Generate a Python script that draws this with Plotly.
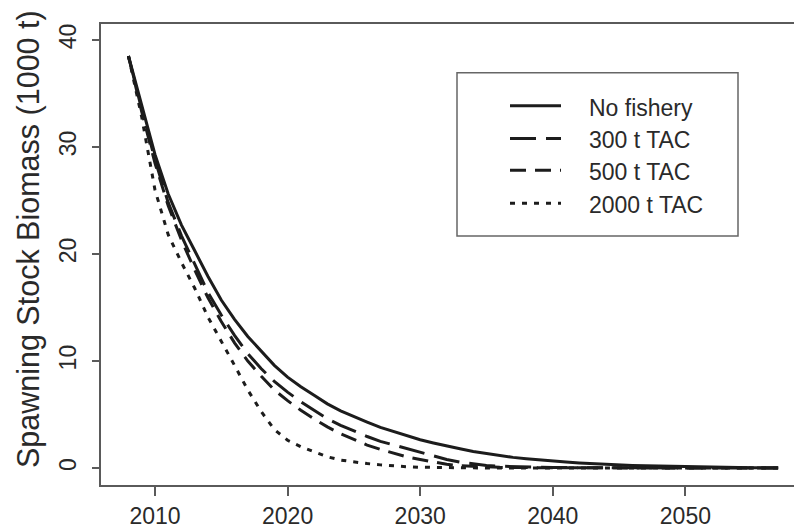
import plotly.graph_objects as go

# Projection years
years = list(range(2008, 2058))

# Spawning stock biomass (1000 t) under each catch scenario
no_fishery = [
    38.5, 33.8, 29.3, 25.6, 22.7, 20.3, 17.9, 15.7, 13.9, 12.3,
    10.9, 9.6, 8.5, 7.6, 6.8, 6.0, 5.35, 4.8, 4.3, 3.8,
    3.4, 3.0, 2.65, 2.35, 2.05, 1.8, 1.55, 1.35, 1.15, 1.0,
    0.88, 0.75, 0.65, 0.56, 0.48, 0.41, 0.35, 0.3, 0.25, 0.21,
    0.18, 0.15, 0.12, 0.1, 0.08, 0.07, 0.05, 0.04, 0.03, 0.02,
]
tac_300 = [
    38.5, 33.5, 28.8, 24.8, 21.7, 19.0, 16.4, 14.3, 12.4, 10.7,
    9.3, 8.1, 7.1, 6.2, 5.4, 4.6, 4.0, 3.45, 2.95, 2.5,
    2.15, 1.8, 1.5, 1.15, 0.8, 0.55, 0.38, 0.25, 0.18, 0.12,
    0.09, 0.07, 0.05, 0.04, 0.03, 0.03, 0.02, 0.02, 0.02, 0.01,
    0.01, 0.01, 0.01, 0.01, 0.01, 0.01, 0.01, 0.01, 0.01, 0.01,
]
tac_500 = [
    38.5, 33.3, 28.5, 24.5, 21.3, 18.5, 15.9, 13.7, 11.7, 10.0,
    8.6, 7.3, 6.3, 5.4, 4.6, 3.85, 3.2, 2.65, 2.15, 1.75,
    1.4, 1.05, 0.8, 0.55, 0.35, 0.22, 0.15, 0.1, 0.07, 0.05,
    0.04, 0.03, 0.02, 0.02, 0.02, 0.01, 0.01, 0.01, 0.01, 0.01,
    0.01, 0.01, 0.01, 0.01, 0.01, 0.01, 0.01, 0.01, 0.01, 0.01,
]
tac_2000 = [
    38.5, 32.8, 26.0, 21.8, 19.2, 16.8, 14.1, 11.9, 9.6, 7.3,
    5.3, 3.6, 2.6, 2.0, 1.5, 1.05, 0.75, 0.55, 0.42, 0.3,
    0.2, 0.12, 0.08, 0.05, 0.03, 0.02, 0.02, 0.01, 0.01, 0.01,
    0.01, 0.01, 0.01, 0.01, 0.01, 0.01, 0.01, 0.01, 0.01, 0.01,
    0.01, 0.01, 0.01, 0.01, 0.01, 0.01, 0.01, 0.01, 0.01, 0.01,
]

series_names = ["No fishery", "300 t TAC", "500 t TAC", "2000 t TAC"]
series_values = [no_fishery, tac_300, tac_500, tac_2000]
series_dash = ["solid", "26px,10px", "16px,9px", "5px,7px"]

x_ticks = [2010, 2020, 2030, 2040, 2050]
y_ticks = [0, 10, 20, 30, 40]

W, H = 794, 529
ML, MR, MT, MB = 101, 0, 24, 42
PW, PH = W - ML - MR, H - MT - MB

FONT = "Arial, Liberation Sans, sans-serif"
INK = "#1c1c1c"
TEXT = "#2a2a2a"
AXIS = "#5a5a5a"


def px_x(px):
    return (px - ML) / PW


def px_y(py):
    return (H - MB - py) / PH


fig = go.Figure()
for name, vals, dash in zip(series_names, series_values, series_dash):
    fig.add_trace(go.Scatter(
        x=years, y=vals, mode="lines", name=name,
        line=dict(color=INK, width=3, dash=dash),
        showlegend=False,
    ))

# Legend box drawn in the upper right of the panel
shapes = [dict(
    type="rect", xref="paper", yref="paper",
    x0=px_x(457), x1=px_x(738), y0=px_y(237), y1=px_y(73),
    line=dict(color="#666666", width=1.5), fillcolor="white", layer="below",
)]
annotations = []
row_y = [106, 139, 171, 204]
for name, dash, ry in zip(series_names, series_dash, row_y):
    shapes.append(dict(
        type="line", xref="paper", yref="paper",
        x0=px_x(510), x1=px_x(561), y0=px_y(ry), y1=px_y(ry),
        line=dict(color=INK, width=3, dash=dash),
    ))
    annotations.append(dict(
        xref="paper", yref="paper", x=px_x(587), y=px_y(ry + 2),
        text=name, showarrow=False, xanchor="left", yanchor="middle",
        font=dict(family=FONT, size=23, color=TEXT),
    ))

# Y axis title
annotations.append(dict(
    xref="paper", yref="paper", x=px_x(28), y=px_y(240),
    text="Spawning Stock Biomass (1000 t)", showarrow=False,
    textangle=-90, xanchor="center", yanchor="middle",
    font=dict(family=FONT, size=30.5, color=TEXT),
))

fig.update_layout(
    width=W, height=H,
    margin=dict(l=ML, r=MR, t=MT, b=MB, pad=0),
    paper_bgcolor="white", plot_bgcolor="white",
    shapes=shapes, annotations=annotations,
    font=dict(family=FONT, color=TEXT),
)
fig.update_xaxes(
    range=[2005.93, 2058.19], tickvals=x_ticks, ticks="outside",
    ticklen=9, tickwidth=1.5, tickcolor=AXIS,
    showline=True, linecolor=AXIS, linewidth=2, mirror=True,
    showgrid=False, zeroline=False,
    tickfont=dict(family=FONT, size=23, color=TEXT),
)
fig.update_yaxes(
    range=[-1.58, 41.49], tickvals=y_ticks, ticks="outside",
    ticklen=7, tickwidth=1.5, tickcolor=AXIS,
    showline=True, linecolor=AXIS, linewidth=2, mirror=False,
    showgrid=False, zeroline=False, tickangle=-90, ticklabelstandoff=7,
    tickfont=dict(family=FONT, size=23, color=TEXT),
)

fig.write_html("out.html")
